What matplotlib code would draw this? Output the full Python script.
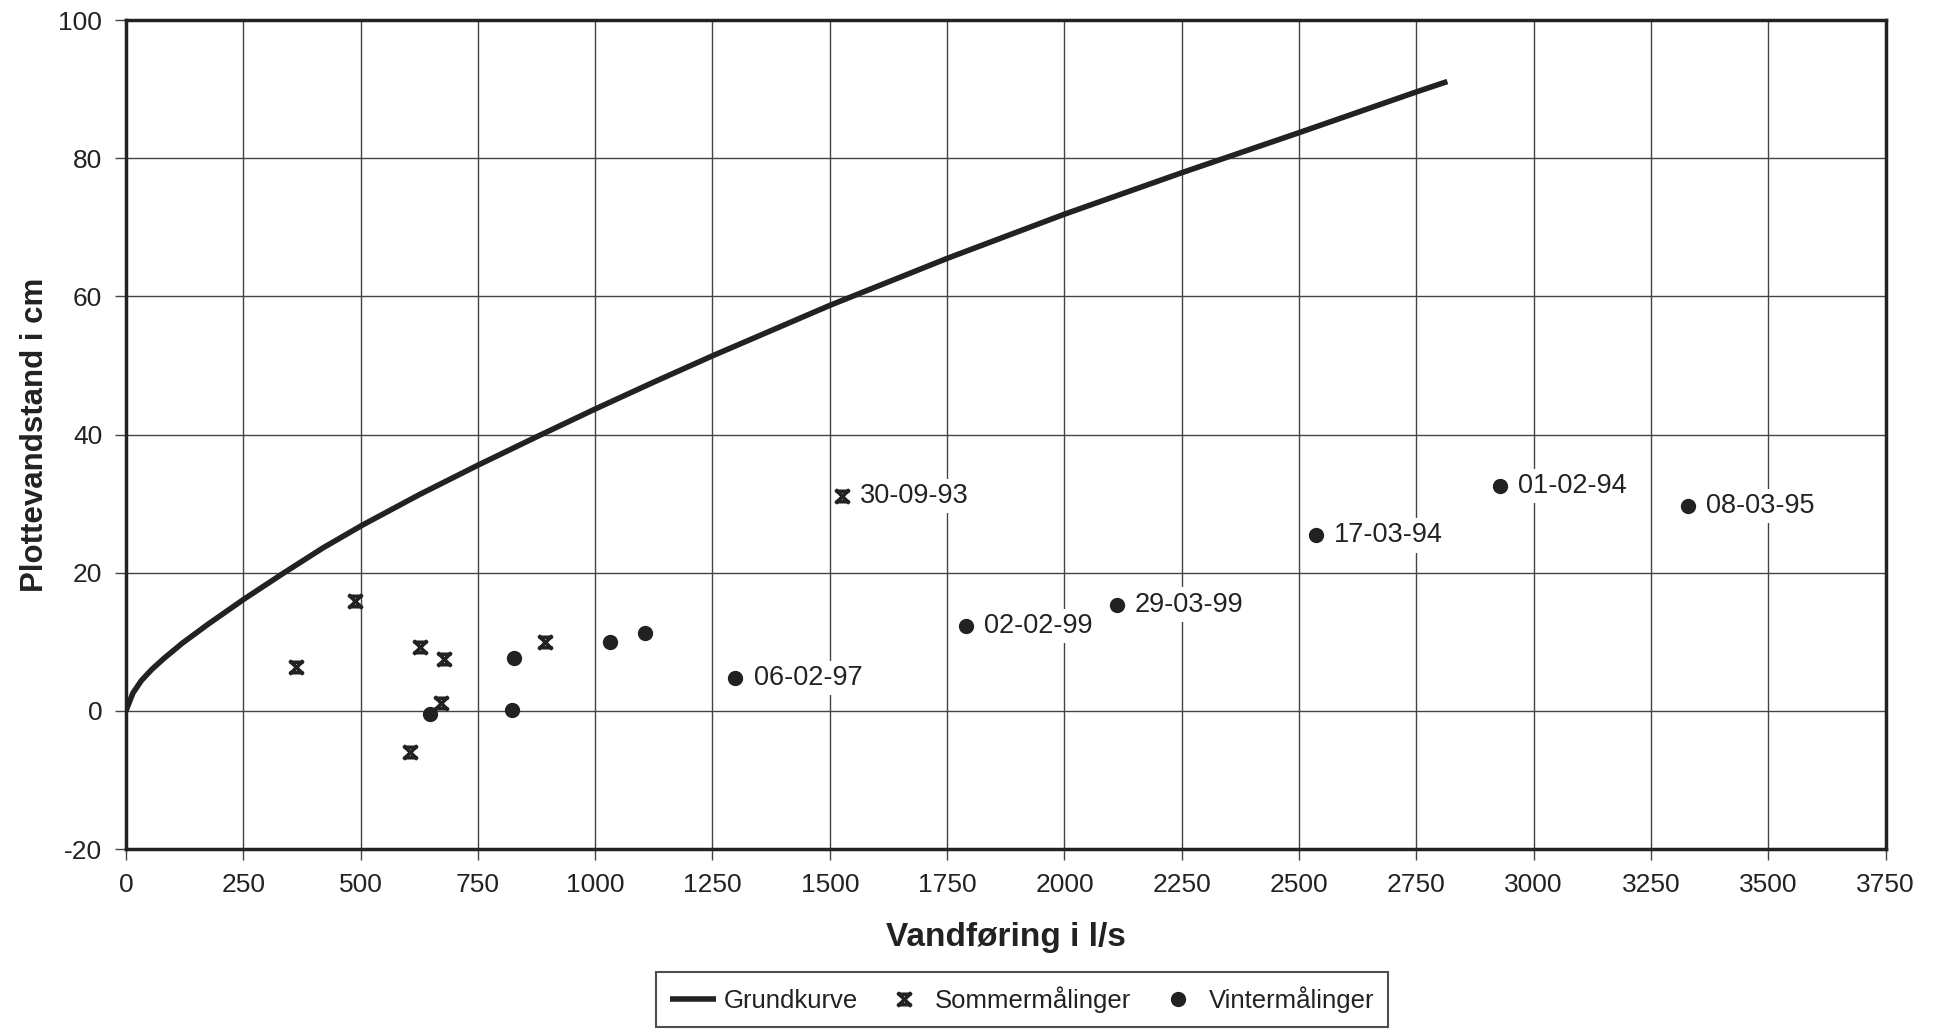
import matplotlib
matplotlib.use("Agg")
import matplotlib.pyplot as plt
from matplotlib.path import Path

plt.rcParams['font.family'] = ['Liberation Sans', 'DejaVu Sans']
plt.rcParams['axes.unicode_minus'] = False

# Grundkurve (rating curve)
curve_q = [0, 15, 33, 55, 81, 120, 176, 252, 337, 420, 504, 625, 751, 879, 1000,
           1125, 1250, 1500, 1750, 2000, 2250, 2500, 2750, 2816]
curve_h = [0, 2.6, 4.4, 6.0, 7.6, 9.8, 12.6, 16.2, 20.0, 23.6, 26.9, 31.3, 35.6, 39.8, 43.7,
           47.6, 51.4, 58.7, 65.5, 71.9, 77.9, 83.7, 89.6, 91.1]

# Sommermålinger
summer_q = [363, 489, 605, 626, 671, 678, 894, 1525]
summer_h = [6.4, 15.9, -5.9, 9.3, 1.1, 7.5, 10.0, 31.1]
summer_lbl = [None, None, None, None, None, None, None, "30-09-93"]

# Vintermålinger
winter_q = [647, 823, 828, 1031, 1107, 1299, 1791, 2112, 2535, 2929, 3329]
winter_h = [-0.4, 0.2, 7.7, 10.0, 11.3, 4.8, 12.3, 15.4, 25.4, 32.6, 29.7]
winter_lbl = [None, None, None, None, None, "06-02-97", "02-02-99", "29-03-99",
              "17-03-94", "01-02-94", "08-03-95"]

x_ticks = list(range(0, 3751, 250))
y_ticks = list(range(-20, 101, 20))

# cross marker with short horizontal bars through the arms
star_x = Path(
    [(-1, -1), (1, 1), (-1, 1), (1, -1),
     (-1.0, 0.75), (1.0, 0.75), (-1.0, -0.75), (1.0, -0.75)],
    [Path.MOVETO, Path.LINETO, Path.MOVETO, Path.LINETO,
     Path.MOVETO, Path.LINETO, Path.MOVETO, Path.LINETO])

fig = plt.figure(figsize=(19.37, 10.33), dpi=100)
ax = fig.add_axes([0.065, 0.178, 0.9085, 0.8026])

ax.plot(curve_q, curve_h, color='#222222', lw=4, solid_capstyle='butt',
        solid_joinstyle='round', label='Grundkurve', zorder=3)
ax.plot(summer_q, summer_h, ls='none', marker=star_x, ms=10, mew=2.6,
        color='#222222', label='Sommermålinger', zorder=4)
ax.plot(winter_q, winter_h, ls='none', marker='o', ms=10, color='#222222',
        label='Vintermålinger', zorder=4)

for q, h, t in list(zip(summer_q, summer_h, summer_lbl)) + list(zip(winter_q, winter_h, winter_lbl)):
    if t:
        ax.annotate(t, (q, h), xytext=(13, 0), textcoords='offset points',
                    ha='left', va='center', fontsize=19.5, color='#222222',
                    bbox=dict(boxstyle='square,pad=0.15', fc='white', ec='none'),
                    zorder=5)

ax.set_xlim(0, 3750)
ax.set_ylim(-20, 100)
ax.set_xticks(x_ticks)
ax.set_yticks(y_ticks)
ax.grid(True, color='#444444', lw=1.0)
ax.set_axisbelow(True)
for s in ax.spines.values():
    s.set_linewidth(2.5)
    s.set_color('#222222')
ax.tick_params(direction='out', length=8, width=1, color='#444444',
               labelsize=19, labelcolor='#222222', pad=9)

ax.set_xlabel('Vandføring i l/s', fontsize=24, fontweight='bold',
              color='#222222', labelpad=18)
ax.set_ylabel('Plottevandstand i cm', fontsize=22.5, fontweight='bold',
              color='#222222', labelpad=6)

leg = fig.legend(loc='center', bbox_to_anchor=(0.5276, 0.032), ncol=3,
                 fontsize=18.5, frameon=True, fancybox=False, edgecolor='#222222',
                 handlelength=1.8, handletextpad=0.3, columnspacing=0.9,
                 borderpad=0.55, labelcolor='#222222')
leg.get_frame().set_linewidth(1.5)

fig.savefig('out.png', dpi=100, facecolor='white')
